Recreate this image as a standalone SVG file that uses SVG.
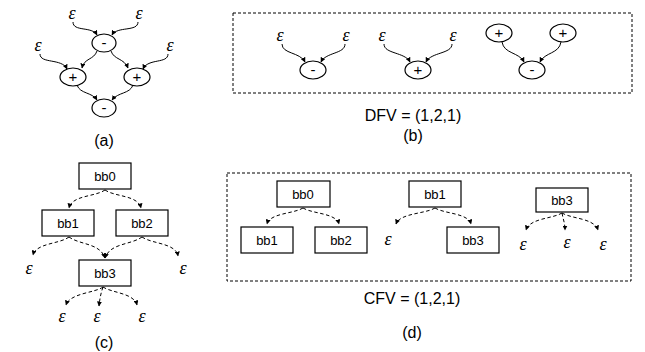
<svg xmlns="http://www.w3.org/2000/svg" width="645" height="352" viewBox="0 0 645 352">
<style>
.n{fill:#fff;stroke:#000;stroke-width:1.2}
.t{font-family:"Liberation Sans",Arial,sans-serif;font-size:16px;text-anchor:middle;fill:#000}
.bt{font-family:"Liberation Sans",Arial,sans-serif;font-size:13px;text-anchor:middle;fill:#000}
.op{font-family:"Liberation Sans",Arial,sans-serif;font-size:15px;text-anchor:middle;fill:#000}
.e{font-family:"Liberation Serif","Times New Roman",serif;font-style:italic;font-size:18px;text-anchor:middle;fill:#000}
.s{fill:none;stroke:#000;stroke-width:1;marker-end:url(#ah)}
.d{fill:none;stroke:#000;stroke-width:1;stroke-dasharray:3.5,2.5;marker-end:url(#ah)}
.frame{fill:none;stroke:#000;stroke-width:1;stroke-dasharray:3,2}
</style>
<defs>
<marker id="ah" viewBox="0 0 10 10" refX="9" refY="5" markerWidth="5" markerHeight="5" markerUnits="userSpaceOnUse" orient="auto">
<path d="M0,0 L10,5 L0,10 z" fill="#000"/>
</marker>
</defs>
<rect id="frameB" class="frame" x="233" y="13" width="399" height="80"/>
<rect id="frameD" class="frame" x="227" y="173" width="404" height="108"/>
<g id="connectors">
<path class="s" d="M73,22 C73,32 92,26 97,35"/>
<path class="s" d="M138,22 C138,32 117,26 112,35"/>
<path class="s" d="M40,54 C40,64 62,58 67,69"/>
<path class="s" d="M168,54 C168,64 148,58 143,69"/>
<path class="s" d="M97,51 C94,60 84,58 82,68"/>
<path class="s" d="M111,51 C114,60 124,58 128,68"/>
<path class="s" d="M77,85 C80,94 92,92 97,100"/>
<path class="s" d="M133,85 C130,94 118,92 112,100"/>
<path class="s" d="M282,44 C282,54 300,52 305,62"/>
<path class="s" d="M345,44 C345,54 326,52 321,62"/>
<path class="s" d="M384,44 C384,54 405,52 410,62"/>
<path class="s" d="M452,44 C452,54 431,52 426,62"/>
<path class="s" d="M502,42 C504,54 519,52 524,62"/>
<path class="s" d="M561,42 C559,54 545,52 540,62"/>
<path class="d" d="M105,190 C95,197 72,195 69,208"/>
<path class="d" d="M105,190 C115,197 138,195 141,208"/>
<path class="d" d="M69,237 C60,244 36,243 33,255"/>
<path class="d" d="M69,237 C80,245 100,243 105,258"/>
<path class="d" d="M142,237 C131,245 110,243 105,258"/>
<path class="d" d="M142,237 C152,244 176,243 178,256"/>
<path class="d" d="M103,287 C95,293 70,293 66,305"/>
<path class="d" d="M103,287 C101,293 100,297 99,306"/>
<path class="d" d="M103,287 C112,293 134,293 137,305"/>
<path class="d" d="M303,208 C293,214 270,213 267,224"/>
<path class="d" d="M303,208 C313,214 336,213 339,224"/>
<path class="d" d="M435,208 C425,214 400,213 396,224"/>
<path class="d" d="M435,208 C445,214 468,213 471,224"/>
<path class="d" d="M562,213 C552,219 530,218 526,230"/>
<path class="d" d="M562,213 C563,219 565,223 565,230"/>
<path class="d" d="M562,213 C572,219 594,218 598,230"/>
</g>
<g id="a_eps1"><text class="e" x="72" y="19">ε</text></g>
<g id="a_eps2"><text class="e" x="139" y="19">ε</text></g>
<g id="a_eps3"><text class="e" x="38" y="51">ε</text></g>
<g id="a_eps4"><text class="e" x="170" y="51">ε</text></g>
<g id="a_m1"><ellipse class="n" cx="104" cy="43" rx="12" ry="9"/><text class="op" x="104" y="48">-</text></g>
<g id="a_p1"><ellipse class="n" cx="73" cy="77" rx="13" ry="9"/><text class="op" x="73" y="82">+</text></g>
<g id="a_p2"><ellipse class="n" cx="137" cy="77" rx="13" ry="9"/><text class="op" x="137" y="82">+</text></g>
<g id="a_m2"><ellipse class="n" cx="104" cy="108" rx="12" ry="9"/><text class="op" x="104" y="113">-</text></g>
<g id="label_a"><text class="t" x="104" y="146">(a)</text></g>
<g id="b_eps1"><text class="e" x="280" y="41">ε</text></g>
<g id="b_eps2"><text class="e" x="346" y="41">ε</text></g>
<g id="b_m1"><ellipse class="n" cx="313" cy="70" rx="13" ry="9"/><text class="op" x="313" y="75">-</text></g>
<g id="b_eps3"><text class="e" x="382" y="41">ε</text></g>
<g id="b_eps4"><text class="e" x="453" y="41">ε</text></g>
<g id="b_p1"><ellipse class="n" cx="418" cy="70" rx="13" ry="9"/><text class="op" x="418" y="75">+</text></g>
<g id="b_p2"><ellipse class="n" cx="499" cy="33" rx="13" ry="9"/><text class="op" x="499" y="38">+</text></g>
<g id="b_p3"><ellipse class="n" cx="563" cy="33" rx="13" ry="9"/><text class="op" x="563" y="38">+</text></g>
<g id="b_m2"><ellipse class="n" cx="532" cy="70" rx="13" ry="9"/><text class="op" x="532" y="75">-</text></g>
<g id="dfv"><text class="t" x="413" y="121">DFV = (1,2,1)</text></g>
<g id="label_b"><text class="t" x="413" y="141">(b)</text></g>
<g id="c_bb0"><rect class="n" x="79" y="163" width="52" height="26"/><text class="bt" x="105" y="181">bb0</text></g>
<g id="c_bb1"><rect class="n" x="42" y="210" width="52" height="26"/><text class="bt" x="68" y="228">bb1</text></g>
<g id="c_bb2"><rect class="n" x="116" y="210" width="52" height="26"/><text class="bt" x="142" y="228">bb2</text></g>
<g id="c_bb3"><rect class="n" x="79" y="260" width="52" height="26"/><text class="bt" x="105" y="278">bb3</text></g>
<g id="c_eps1"><text class="e" x="29" y="274">ε</text></g>
<g id="c_eps2"><text class="e" x="183" y="274">ε</text></g>
<g id="c_eps3"><text class="e" x="62" y="322">ε</text></g>
<g id="c_eps4"><text class="e" x="97" y="322">ε</text></g>
<g id="c_eps5"><text class="e" x="142" y="322">ε</text></g>
<g id="label_c"><text class="t" x="104" y="348">(c)</text></g>
<g id="d_bb0"><rect class="n" x="277" y="181" width="53" height="26"/><text class="bt" x="303" y="199">bb0</text></g>
<g id="d_bb1a"><rect class="n" x="241" y="227" width="52" height="26"/><text class="bt" x="267" y="245">bb1</text></g>
<g id="d_bb2"><rect class="n" x="315" y="227" width="52" height="26"/><text class="bt" x="341" y="245">bb2</text></g>
<g id="d_bb1b"><rect class="n" x="409" y="181" width="52" height="26"/><text class="bt" x="435" y="199">bb1</text></g>
<g id="d_eps1"><text class="e" x="388" y="245">ε</text></g>
<g id="d_bb3a"><rect class="n" x="447" y="227" width="52" height="26"/><text class="bt" x="473" y="245">bb3</text></g>
<g id="d_bb3b"><rect class="n" x="536" y="188" width="52" height="24"/><text class="bt" x="562" y="205">bb3</text></g>
<g id="d_eps2"><text class="e" x="523" y="250">ε</text></g>
<g id="d_eps3"><text class="e" x="567" y="248">ε</text></g>
<g id="d_eps4"><text class="e" x="603" y="250">ε</text></g>
<g id="cfv"><text class="t" x="412" y="304">CFV = (1,2,1)</text></g>
<g id="label_d"><text class="t" x="412" y="338">(d)</text></g>
</svg>
